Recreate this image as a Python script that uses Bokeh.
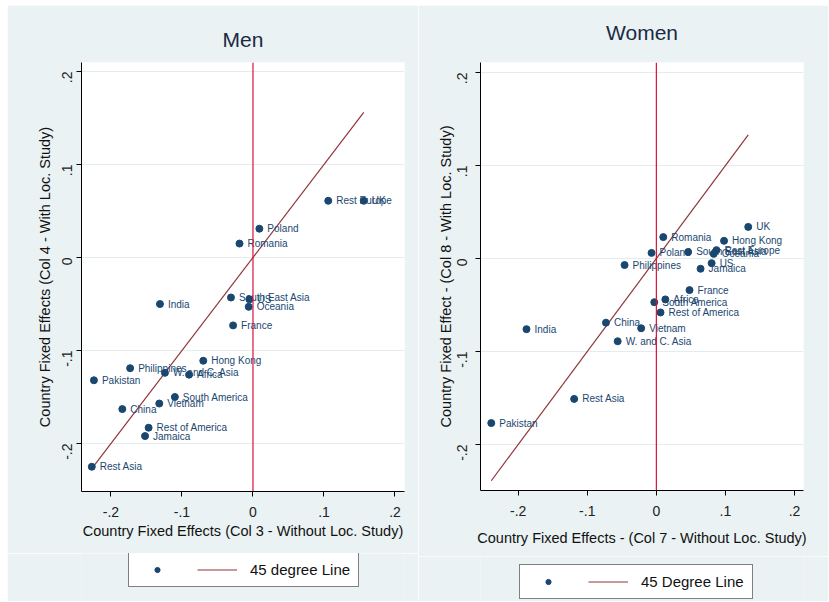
import math
from bokeh.plotting import figure
from bokeh.models import ColumnDataSource, Span, FixedTicker, Legend, LegendItem, Range1d, Title
from bokeh.layouts import row, column
from bokeh.embed import file_html
from bokeh.resources import INLINE
from bokeh.core.properties import value

# ---------------- data ----------------
men_countries = ["Rest Europe", "UK", "Poland", "Romania", "South East Asia", "US", "Oceania",
                 "France", "India", "Hong Kong", "Philippines", "W. and C. Asia", "Africa",
                 "Pakistan", "South America", "Vietnam", "China", "Rest of America", "Jamaica",
                 "Rest Asia"]
men_x = [0.106, 0.156, 0.009, -0.019, -0.031, -0.005, -0.006, -0.028, -0.131, -0.070, -0.173,
         -0.124, -0.090, -0.224, -0.110, -0.132, -0.184, -0.147, -0.152, -0.227]
men_y = [0.061, 0.061, 0.031, 0.015, -0.043, -0.045, -0.053, -0.073, -0.050, -0.111, -0.119,
         -0.124, -0.126, -0.132, -0.150, -0.157, -0.163, -0.183, -0.192, -0.225]

women_countries = ["UK", "Romania", "Hong Kong", "Poland", "South East Asia", "Rest Europe",
                   "Oceania", "US", "Jamaica", "Philippines", "France", "Africa", "South America",
                   "Rest of America", "China", "Vietnam", "India", "W. and C. Asia", "Rest Asia",
                   "Pakistan"]
women_x = [0.133, 0.010, 0.098, -0.007, 0.046, 0.087, 0.083, 0.080, 0.064, -0.046, 0.048, 0.013,
           -0.003, 0.006, -0.073, -0.022, -0.188, -0.056, -0.119, -0.239]
women_y = [0.034, 0.023, 0.019, 0.006, 0.007, 0.009, 0.005, -0.005, -0.011, -0.007, -0.034,
           -0.044, -0.047, -0.058, -0.069, -0.075, -0.076, -0.089, -0.151, -0.177]

tick_values = [-0.2, -0.1, 0, 0.1, 0.2]
tick_labels = ["-.2", "-.1", "0", ".1", ".2"]

# ---------------- style ----------------
BG = "#EAF2F3"
NAVY = "#1A476F"
MAROON = "#90353B"
RED = "#D6143C"
GRID = "#E3ECEE"
FONT = "Liberation Sans"
TOTAL_H = 596


def panel(title, names, xs, ys, xlabel, ylabel, width, height, xr, yr, borders,
          spacer, title_standoff, xls, xals, yls, yals):
    p = figure(width=width, height=height, output_backend="svg", toolbar_location=None,
               title=None, x_range=Range1d(*xr), y_range=Range1d(*yr),
               min_border_left=borders[0], min_border_right=borders[1],
               min_border_top=borders[2], min_border_bottom=borders[3])
    p.background_fill_color = "white"
    p.border_fill_color = BG
    p.outline_line_color = None

    if spacer:
        p.add_layout(Title(text=" ", text_font_size="1px", text_color=BG, standoff=spacer),
                     "above")
    p.add_layout(Title(text=title, align="center", text_font=FONT, text_font_size="21px",
                       text_font_style="normal", text_color="#1A2A44",
                       standoff=title_standoff), "above")

    overrides = {v: l for v, l in zip(tick_values, tick_labels)}
    for ax in (p.xaxis[0], p.yaxis[0]):
        ax.ticker = FixedTicker(ticks=tick_values)
        ax.major_label_overrides = overrides
        ax.minor_tick_line_color = None
        ax.major_tick_in = 0
        ax.major_tick_out = 5
        ax.major_tick_line_color = "black"
        ax.axis_line_color = "black"
        ax.major_label_text_font = FONT
        ax.major_label_text_font_size = "14px"
        ax.major_label_text_color = "#222222"
        ax.axis_label_text_font = FONT
        ax.axis_label_text_font_size = "14.5px"
        ax.axis_label_text_font_style = "normal"
        ax.axis_label_text_color = "#111111"
    p.xaxis.axis_label = xlabel
    p.yaxis.axis_label = ylabel
    p.xaxis.major_label_standoff = xls
    p.xaxis.axis_label_standoff = xals
    p.yaxis.major_label_standoff = yls
    p.yaxis.axis_label_standoff = yals
    p.yaxis.major_label_orientation = math.pi / 2

    p.xgrid.visible = False
    p.ygrid.grid_line_color = GRID
    p.ygrid.grid_line_width = 1

    p.add_layout(Span(location=0, dimension="height", line_color=RED, line_width=1.2))

    src = ColumnDataSource(dict(x=xs, y=ys, name=names))
    lx = [min(xs), max(xs)]
    p.line(x=lx, y=lx, line_color=MAROON, line_width=1.2)
    p.scatter(x="x", y="y", source=src, size=7, marker="circle",
              fill_color=NAVY, line_color=NAVY)
    p.text(x="x", y="y", text="name", source=src, x_offset=8, y_offset=0,
           text_baseline="middle", text_align="left", text_font_size="10px",
           text_color=NAVY, text_font=value(FONT))
    return p


def legend_strip(width, height, leg_label, loc):
    q = figure(width=width, height=height, output_backend="svg", toolbar_location=None,
               title=None, x_range=Range1d(0, 1), y_range=Range1d(0, 1),
               x_axis_type=None, y_axis_type=None, min_border=0)
    q.background_fill_color = BG
    q.border_fill_color = BG
    q.outline_line_color = None
    # legend proxies: one undefined (NaN) point each, so nothing is drawn in the strip
    nan = float("nan")
    sc = q.scatter(x=[nan], y=[nan], size=6, marker="circle", fill_color=NAVY, line_color=NAVY)
    ln = q.line(x=[nan, nan], y=[nan, nan], line_color=MAROON, line_width=1.2)
    legend = Legend(items=[LegendItem(label=" ", renderers=[sc]),
                           LegendItem(label=leg_label, renderers=[ln])],
                    orientation="horizontal", location=loc,
                    border_line_color="black", border_line_width=1,
                    background_fill_color="white", background_fill_alpha=1,
                    label_text_font=FONT, label_text_font_size="15px",
                    label_text_color="#111111",
                    glyph_width=40, glyph_height=13, label_height=13, label_width=0,
                    label_standoff=13, padding=8, spacing=7, margin=0)
    q.add_layout(legend, "center")
    return q


MEN_W, MEN_H = 411, 548
men = panel("Men", men_countries, men_x, men_y,
            "Country Fixed Effects (Col 3 - Without Loc. Study)",
            "Country Fixed Effects (Col 4 - With Loc. Study)",
            MEN_W, MEN_H,
            (-0.2415, 0.2134), (-0.2516, 0.2097), (74, MEN_W - 74 - 323, 57, MEN_H - 57 - 429),
            0, 23, 10, 3, 9, 2)
men_leg = legend_strip(MEN_W, TOTAL_H - MEN_H, "45 degree Line", (47, 14))

WOMEN_W, WOMEN_H = 410, 551
women = panel("Women", women_countries, women_x, women_y,
              "Country Fixed Effects - (Col 7 - Without Loc. Study)",
              "Country Fixed Effect - (Col 8 - With Loc. Study)",
              WOMEN_W, WOMEN_H,
              (-0.2546, 0.2130), (-0.2495, 0.2108), (62, WOMEN_W - 62 - 323, 57, WOMEN_H - 57 - 428),
              10, 12, 10, 11, 13, -4)
women_leg = legend_strip(WOMEN_W, TOTAL_H - WOMEN_H, "45 Degree Line", (39, 2))

layout = row(column(men, men_leg), column(women, women_leg), margin=(5, 0, 0, 7))
open("out.html", "w").write(file_html(layout, INLINE))
